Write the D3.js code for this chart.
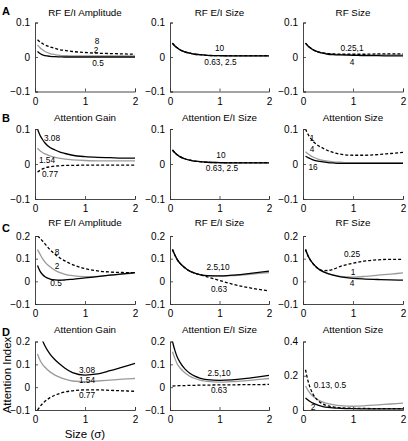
<!DOCTYPE html>
<html><head><meta charset="utf-8">
<script src="https://cdn.jsdelivr.net/npm/d3@7"></script>
<style>
body{margin:0;background:#fff;}
svg{font-family:"Liberation Sans",Arial,sans-serif;}
</style></head>
<body><svg id="c" width="408" height="441"></svg>
<script>
// shared x samples (size, sigma)
const xs = [0.05,0.1,0.15,0.2,0.3,0.4,0.5,0.6,0.75,1,1.25,1.5,1.75,2];
const xTicks = [0,1,2];
const yTicksAB = [-0.1,0,0.1];
const yTicksCD = [-0.1,0,0.1,0.2];
const yTicksD3 = [0,0.2,0.4];

// Row A
const aAmp8  = [0.05,0.044,0.039,0.035,0.029,0.025,0.021,0.019,0.016,0.013,0.011,0.010,0.009,0.008];
const aAmp2  = [0.035,0.027,0.021,0.016,0.010,0.007,0.005,0.004,0.003,0.003,0.003,0.003,0.003,0.003];
const aAmp05 = [0.016,0.010,0.006,0.004,0.002,0.001,0.0005,0,0,0,0,0,0,0];
const aEI063 = [0.04,0.032,0.026,0.021,0.015,0.011,0.008,0.007,0.005,0.004,0.004,0.004,0.004,0.004];
const aEI25  = [0.04,0.032,0.026,0.021,0.015,0.011,0.008,0.007,0.005,0.004,0.003,0.003,0.003,0.003];
const aEI10  = [0.04,0.032,0.026,0.021,0.015,0.011,0.008,0.007,0.005,0.004,0.003,0.003,0.003,0.003];
const aSz025 = [0.04,0.032,0.026,0.021,0.015,0.012,0.010,0.009,0.008,0.008,0.008,0.009,0.009,0.009];
const aSz1   = [0.04,0.032,0.026,0.021,0.015,0.011,0.009,0.008,0.007,0.006,0.006,0.006,0.006,0.006];
const aSz4   = [0.04,0.032,0.026,0.021,0.015,0.011,0.008,0.007,0.006,0.005,0.004,0.004,0.003,0.003];
// Row B
const bGain308 = [0.1,0.082,0.07,0.06,0.047,0.04,0.034,0.03,0.025,0.021,0.019,0.018,0.017,0.017];
const bGain154 = [0.045,0.038,0.033,0.029,0.023,0.019,0.016,0.014,0.012,0.010,0.009,0.009,0.009,0.009];
const bGain077 = [-0.023,-0.018,-0.014,-0.011,-0.008,-0.006,-0.005,-0.004,-0.004,-0.003,-0.003,-0.003,-0.003,-0.003];
const bEI063 = [0.04,0.032,0.026,0.021,0.015,0.011,0.008,0.007,0.005,0.004,0.004,0.004,0.004,0.004];
const bEI25  = [0.04,0.032,0.026,0.021,0.015,0.011,0.008,0.007,0.005,0.004,0.003,0.003,0.003,0.003];
const bEI10  = [0.04,0.032,0.026,0.021,0.015,0.011,0.008,0.007,0.005,0.004,0.003,0.003,0.003,0.003];
const bSz1   = [0.1,0.085,0.074,0.065,0.053,0.045,0.038,0.033,0.028,0.025,0.025,0.027,0.030,0.033];
const bSz4   = [0.035,0.029,0.024,0.020,0.014,0.010,0.008,0.006,0.005,0.004,0.004,0.004,0.004,0.004];
const bSz16  = [0.022,0.018,0.015,0.012,0.008,0.006,0.004,0.003,0.002,0.002,0.002,0.002,0.002,0.002];
// Row C
const cAmp8  = [0.2,0.19,0.178,0.165,0.14,0.12,0.103,0.09,0.074,0.056,0.046,0.041,0.039,0.038];
const cAmp2  = [0.14,0.12,0.10,0.085,0.064,0.049,0.038,0.031,0.025,0.021,0.022,0.027,0.032,0.037];
const cAmp05 = [0.07,0.045,0.03,0.02,0.01,0.006,0.005,0.006,0.009,0.015,0.021,0.027,0.033,0.038];
const cEI063 = [0.14,0.115,0.095,0.08,0.06,0.045,0.036,0.03,0.02,0.004,-0.012,-0.024,-0.034,-0.042];
const cEI25  = [0.14,0.115,0.095,0.08,0.06,0.045,0.036,0.03,0.025,0.023,0.025,0.029,0.034,0.039];
const cEI10  = [0.14,0.115,0.095,0.08,0.06,0.045,0.036,0.03,0.025,0.024,0.027,0.032,0.038,0.045];
const cSz025 = [0.14,0.113,0.093,0.078,0.056,0.047,0.048,0.053,0.066,0.08,0.09,0.095,0.097,0.097];
const cSz1   = [0.14,0.113,0.093,0.078,0.057,0.043,0.034,0.028,0.022,0.019,0.022,0.027,0.032,0.037];
const cSz4   = [0.14,0.113,0.093,0.078,0.057,0.043,0.034,0.027,0.02,0.013,0.01,0.008,0.006,0.005];
// Row D
const dGain308 = [0.3,0.24,0.205,0.18,0.145,0.12,0.1,0.083,0.064,0.053,0.058,0.072,0.088,0.104];
const dGain154 = [0.145,0.118,0.1,0.087,0.067,0.053,0.043,0.035,0.027,0.024,0.027,0.031,0.035,0.038];
const dGain077 = [-0.1,-0.085,-0.072,-0.062,-0.046,-0.035,-0.027,-0.021,-0.016,-0.012,-0.012,-0.014,-0.016,-0.018];
const dEI063 = [0.005,0.006,0.006,0.007,0.007,0.008,0.008,0.009,0.009,0.01,0.01,0.011,0.011,0.012];
const dEI25  = [0.155,0.125,0.1,0.085,0.063,0.048,0.038,0.031,0.025,0.022,0.024,0.028,0.033,0.038];
const dEI10  = [0.2,0.16,0.13,0.11,0.08,0.061,0.048,0.04,0.033,0.03,0.032,0.037,0.044,0.052];
const dSz013 = [0.235,0.17,0.125,0.093,0.055,0.035,0.024,0.018,0.013,0.01,0.009,0.008,0.008,0.008];
const dSz05  = [0.14,0.115,0.095,0.08,0.06,0.046,0.037,0.031,0.025,0.022,0.025,0.03,0.035,0.04];
const dSz2   = [0.07,0.058,0.048,0.04,0.028,0.02,0.015,0.012,0.01,0.008,0.007,0.007,0.007,0.007];

const styles = {
  black:{stroke:"#000",dash:null},
  gray:{stroke:"#9a9a9a",dash:null},
  dash:{stroke:"#000",dash:"3,2"}
};

// layout
const cols = [[35,135],[170,269],[303,403]];
const rows = [[22.5,91.5],[129,199],[236,304],[341.5,410]];
const rowLetters = ["A","B","C","D"];
const letterY = [15,122,232,336];
const titleY = [15.5,121,225.5,333];

const panels = [
 {r:0,c:0,title:"RF E/I Amplitude",yd:[-0.1,0.1],yt:yTicksAB,
  series:[[aAmp2,"gray"],[aAmp05,"black"],[aAmp8,"dash"]],
  labels:[["8",1.24,0.046],["2",1.22,0.02],["0.5",1.26,-0.017]]},
 {r:0,c:1,title:"RF E/I Size",yd:[-0.1,0.1],yt:yTicksAB,
  series:[[aEI25,"gray"],[aEI10,"black"],[aEI063,"dash"]],
  labels:[["10",1.0,0.026],["0.63, 2.5",1.02,-0.014]]},
 {r:0,c:2,title:"RF Size",yd:[-0.1,0.1],yt:yTicksAB,
  series:[[aSz1,"gray"],[aSz4,"black"],[aSz025,"dash"]],
  labels:[["0.25,1",0.98,0.026],["4",0.98,-0.014]]},
 {r:1,c:0,title:"Attention Gain",yd:[-0.1,0.1],yt:yTicksAB,
  series:[[bGain154,"gray"],[bGain308,"black"],[bGain077,"dash"]],
  labels:[["3.08",0.34,0.074],["1.54",0.24,0.01],["0.77",0.3,-0.029]]},
 {r:1,c:1,title:"Attention E/I Size",yd:[-0.1,0.1],yt:yTicksAB,
  series:[[bEI25,"gray"],[bEI10,"black"],[bEI063,"dash"]],
  labels:[["10",1.03,0.026],["0.63, 2.5",1.05,-0.011]]},
 {r:1,c:2,title:"Attention Size",yd:[-0.1,0.1],yt:yTicksAB,
  series:[[bSz4,"gray"],[bSz16,"black"],[bSz1,"dash"]],
  labels:[["1",0.18,0.074],["4",0.18,0.043],["16",0.2,-0.009]]},
 {r:2,c:0,title:"RF E/I Amplitude",yd:[-0.1,0.2],yt:yTicksCD,
  series:[[cAmp2,"gray"],[cAmp05,"black"],[cAmp8,"dash"]],
  labels:[["8",0.44,0.129],["2",0.44,0.068],["0.5",0.42,-0.007]]},
 {r:2,c:1,title:"RF E/I Size",yd:[-0.1,0.2],yt:yTicksCD,
  series:[[cEI25,"gray"],[cEI10,"black"],[cEI063,"dash"]],
  labels:[["2.5,10",0.97,0.063],["0.63",0.99,-0.034]]},
 {r:2,c:2,title:"RF Size",yd:[-0.1,0.2],yt:yTicksCD,
  series:[[cSz1,"gray"],[cSz4,"black"],[cSz025,"dash"]],
  labels:[["0.25",0.98,0.12],["1",1.0,0.041],["4",0.98,-0.008]]},
 {r:3,c:0,title:"Attention Gain",yd:[-0.1,0.2],yt:yTicksCD,
  series:[[dGain154,"gray"],[dGain308,"black"],[dGain077,"dash"]],
  labels:[["3.08",1.04,0.075],["1.54",1.04,0.032],["0.77",1.04,-0.034]]},
 {r:3,c:1,title:"Attention E/I Size",yd:[-0.1,0.2],yt:yTicksCD,
  series:[[dEI25,"gray"],[dEI10,"black"],[dEI063,"dash"]],
  labels:[["2.5,10",0.99,0.062],["0.63",0.99,-0.013]]},
 {r:3,c:2,title:"Attention Size",yd:[0,0.4],yt:yTicksD3,
  series:[[dSz05,"gray"],[dSz2,"black"],[dSz013,"dash"]],
  labels:[["0.13, 0.5",0.54,0.148],["2",0.2,0.018]]}
];

const svg = d3.select("#c");
const fmt = v => v===0 ? "0" : (v<0 ? "\u2212"+Math.abs(v) : String(v));

panels.forEach((p,i)=>{
  const [x0,x1] = cols[p.c], [y0,y1] = rows[p.r];
  const x = d3.scaleLinear().domain([0,2]).range([x0,x1]);
  const y = d3.scaleLinear().domain(p.yd).range([y1,y0]);
  const g = svg.append("g");
  const cid = "clip"+i;
  svg.append("clipPath").attr("id",cid).append("rect")
    .attr("x",x0).attr("y",y0).attr("width",x1-x0+2).attr("height",y1-y0);
  const line = d3.line().x((d,k)=>x(xs[k])).y(d=>y(d)).curve(d3.curveMonotoneX);
  p.series.forEach(([arr,st])=>{
    g.append("path").attr("clip-path","url(#"+cid+")")
      .attr("d",line(arr)).attr("fill","none")
      .attr("stroke",styles[st].stroke).attr("stroke-width",1.3)
      .attr("stroke-dasharray",styles[st].dash);
  });
  // axes
  const ya = d3.axisLeft(y).tickValues(p.yt).tickSize(-3).tickPadding(5).tickFormat(fmt);
  const xa = d3.axisBottom(x).tickValues(xTicks).tickSize(-3).tickPadding(6).tickFormat(d3.format("d"));
  const ga = g.append("g").attr("transform","translate("+x0+",0)").call(ya);
  const gb = g.append("g").attr("transform","translate(0,"+y1+")").call(xa);
  [ga,gb].forEach(a=>{
    a.select(".domain").attr("stroke","#333").attr("stroke-width",0.9);
    a.selectAll(".tick line").attr("stroke","#333").attr("stroke-width",0.8);
    a.selectAll("text").attr("font-size",10).attr("fill","#000")
      .attr("font-family","Liberation Sans, Arial, sans-serif");
  });
  // title
  g.append("text").attr("x",(x0+x1)/2).attr("y",titleY[p.r]).attr("text-anchor","middle")
    .attr("font-size",9.8).text(p.title);
  // curve labels
  p.labels.forEach(([t,lx,ly])=>{
    g.append("text").attr("x",x(lx)).attr("y",y(ly)).attr("dy","0.35em")
      .attr("text-anchor","middle").attr("font-size",8.3).text(t);
  });
});

rowLetters.forEach((L,i)=>{
  svg.append("text").attr("x",2).attr("y",letterY[i]).attr("font-size",11)
    .attr("font-weight","bold").text(L);
});

svg.append("text").attr("transform","translate(11,375) rotate(-90)")
  .attr("text-anchor","middle").attr("font-size",11.5).text("Attention Index");
svg.append("text").attr("x",85).attr("y",438).attr("text-anchor","middle")
  .attr("font-size",11.5).text("Size (\u03c3)");
</script></body></html>
